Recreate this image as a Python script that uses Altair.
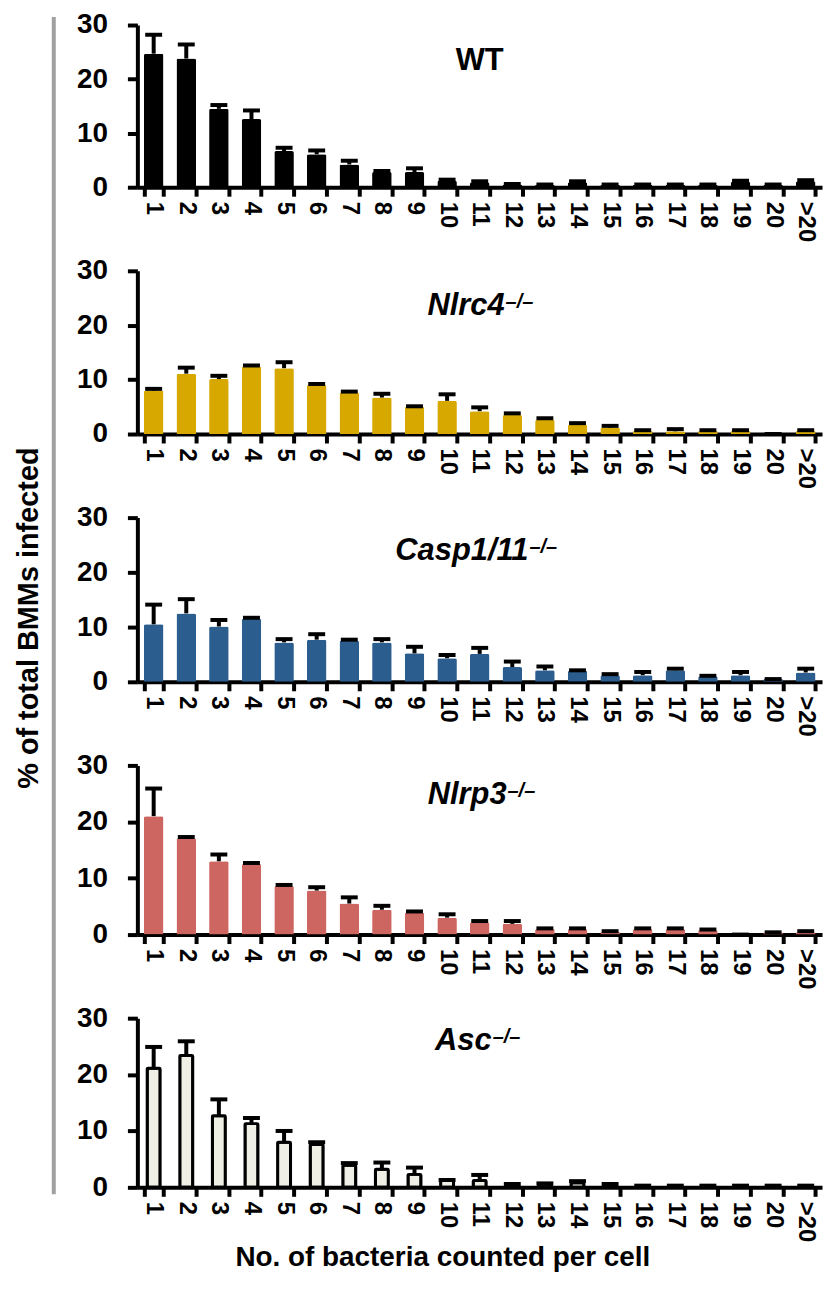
import altair as alt
import pandas as pd

FONT = "Liberation Sans"

categories = [str(i) for i in range(1, 21)] + [">20"]

wt_mean = [24.7, 23.8, 14.5, 12.6, 6.7, 6.1, 4.2, 2.8, 2.8, 1.2, 0.9, 0.5, 0.4, 0.9, 0.4, 0.4, 0.4, 0.4, 1.0, 0.4, 1.1]
wt_err = [3.5, 2.6, 0.7, 1.6, 0.6, 0.7, 0.7, 0.2, 0.7, 0.2, 0.2, 0.1, 0.1, 0.2, 0.1, 0.1, 0.1, 0.1, 0.2, 0.1, 0.2]

nlrc4_mean = [8.0, 11.1, 10.1, 12.4, 12.1, 9.0, 7.6, 6.7, 5.0, 6.1, 4.2, 3.5, 2.6, 1.7, 1.2, 0.6, 0.5, 0.6, 0.6, 0.0, 0.6]
nlrc4_err = [0.3, 1.1, 0.6, 0.2, 1.1, 0.2, 0.2, 0.7, 0.1, 1.2, 0.7, 0.3, 0.3, 0.3, 0.3, 0.1, 0.4, 0.1, 0.1, 0.0, 0.1]

casp_mean = [10.5, 12.5, 10.1, 11.5, 7.2, 7.7, 7.5, 7.2, 5.2, 4.3, 5.1, 2.7, 2.1, 2.0, 1.2, 1.2, 2.1, 1.0, 1.2, 0.5, 1.7]
casp_err = [3.6, 2.6, 1.2, 0.2, 0.6, 1.0, 0.2, 0.6, 1.2, 0.6, 1.1, 1.0, 0.7, 0.1, 0.2, 0.6, 0.3, 0.1, 0.6, 0.0, 0.7]

nlrp3_mean = [21.0, 17.1, 13.0, 12.5, 8.6, 7.8, 5.5, 4.4, 3.9, 3.0, 2.2, 1.9, 1.0, 1.0, 0.5, 1.0, 1.0, 0.8, 0.0, 0.4, 0.4]
nlrp3_err = [4.9, 0.2, 1.2, 0.2, 0.2, 0.6, 1.1, 0.7, 0.2, 0.6, 0.2, 0.5, 0.1, 0.1, 0.1, 0.1, 0.1, 0.1, 0.0, 0.0, 0.2]

asc_mean = [21.1, 23.4, 12.7, 11.3, 8.0, 7.6, 3.9, 3.2, 2.3, 1.2, 1.2, 0.5, 0.6, 0.8, 0.4, 0.2, 0.2, 0.2, 0.2, 0.2, 0.2]
asc_err = [3.8, 2.5, 2.9, 1.0, 2.0, 0.4, 0.4, 1.2, 1.2, 0.1, 1.0, 0.1, 0.1, 0.3, 0.2, 0.1, 0.1, 0.1, 0.1, 0.1, 0.1]

panel_names = ["WT", "Nlrc4", "Casp1/11", "Nlrp3", "Asc"]
panel_sups = ["", "\u2013/\u2013", "\u2013/\u2013", "\u2013/\u2013", "\u2013/\u2013"]
panel_colors = ["#000000", "#d6a800", "#2b5d8e", "#cd6661", "#efefe6"]

y_title = "% of total BMMs infected"
x_title = "No. of bacteria counted per cell"

W = 688
HEIGHTS = [163, 164, 165, 170, 170]
TITLE_X = [344, 369, 393, 371, 356]
TITLE_BASE = [45, 44, 43, 39, 32]


def make_panel(mean, err, fill, name, sup, idx, outlined=False):
    df = pd.DataFrame({
        "cat": categories,
        "mean": mean,
        "top": [m + e for m, e in zip(mean, err)],
    })
    base = alt.Chart(df)
    xenc = alt.X(
        "cat:N", sort=categories,
        scale=alt.Scale(paddingInner=0.4, paddingOuter=0.2),
        axis=alt.Axis(
            title=None, labelAngle=90, labelAlign="left", labelBaseline="middle",
            labelFont=FONT, labelFontWeight="bold", labelFontSize=24, labelColor="black",
            labelPadding=5, tickBand="extent", tickSize=9, tickWidth=4, tickColor="black",
            domainWidth=4, domainColor="black", grid=False,
        ),
    )
    yenc = alt.Y(
        "mean:Q",
        scale=alt.Scale(domain=[0, 30], nice=False),
        axis=alt.Axis(
            title=None, values=[0, 10, 20, 30], labelFont=FONT, labelFontWeight="bold",
            labelFontSize=28, labelColor="black", labelPadding=20, tickSize=10,
            tickWidth=4, tickColor="black", domainWidth=4, domainColor="black", grid=False,
        ),
    )
    if outlined:
        bars = base.mark_bar(color=fill, stroke="black", strokeWidth=3, size=13,
                             cornerRadiusTopLeft=1, cornerRadiusTopRight=1)
    else:
        bars = base.mark_bar(color=fill, cornerRadiusTopLeft=2, cornerRadiusTopRight=2)
    bars = bars.encode(x=xenc, y=yenc)
    xs = alt.X("cat:N", sort=categories)
    stem = base.mark_rule(color="black", strokeWidth=4).encode(x=xs, y="mean:Q", y2="top:Q")
    cap = base.mark_tick(color="black", size=17, thickness=4, opacity=1).encode(x=xs, y="top:Q")

    layers = [bars, stem, cap]

    title_x = TITLE_X[idx]
    title_base = TITLE_BASE[idx]
    tdf = pd.DataFrame({"t": [name]})
    if sup:
        main = alt.Chart(tdf).mark_text(
            font=FONT, fontSize=31, fontWeight="bold", fontStyle="italic",
            align="right", baseline="alphabetic", color="black",
        ).encode(x=alt.value(title_x), y=alt.value(title_base), text="t:N")
        sdf = pd.DataFrame({"t": [sup]})
        sp = alt.Chart(sdf).mark_text(
            font=FONT, fontSize=20, fontWeight="bold", fontStyle="italic",
            align="left", baseline="top", color="black",
        ).encode(x=alt.value(title_x + 1), y=alt.value(title_base - 23), text="t:N")
        layers += [main, sp]
    else:
        main = alt.Chart(tdf).mark_text(
            font=FONT, fontSize=31, fontWeight="bold",
            align="center", baseline="alphabetic", color="black",
        ).encode(x=alt.value(title_x), y=alt.value(title_base), text="t:N")
        layers += [main]

    if idx == 2:
        gdf = pd.DataFrame({"a": [0]})
        gray = alt.Chart(gdf).mark_rule(color="#a0a0a0", strokeWidth=4).encode(
            x=alt.value(-84), y=alt.value(-503), y2=alt.value(680))
        ydf = pd.DataFrame({"t": [y_title]})
        yt = alt.Chart(ydf).mark_text(
            font=FONT, fontSize=29, fontWeight="bold", angle=270,
            align="center", baseline="middle", color="black",
        ).encode(x=alt.value(-109), y=alt.value(101), text="t:N")
        layers += [gray, yt]
    if idx == 4:
        xdf = pd.DataFrame({"t": [x_title]})
        xt = alt.Chart(xdf).mark_text(
            font=FONT, fontSize=28, fontWeight="bold",
            align="center", baseline="middle", color="black",
        ).encode(x=alt.value(307), y=alt.value(241), text="t:N")
        layers += [xt]

    return alt.layer(*layers).properties(width=W, height=HEIGHTS[idx])


series = [
    (wt_mean, wt_err), (nlrc4_mean, nlrc4_err), (casp_mean, casp_err),
    (nlrp3_mean, nlrp3_err), (asc_mean, asc_err),
]

panels = []
for i, (m, e) in enumerate(series):
    panels.append(make_panel(m, e, panel_colors[i], panel_names[i], panel_sups[i], i, outlined=(i == 4)))

chart = alt.vconcat(*panels, spacing=84, bounds="flush").properties(
    padding={"left": 6, "top": 0, "right": 5, "bottom": 5}
).configure_view(stroke=None).configure_axis(grid=False)

chart.save("out.html", embed_options={"renderer": "svg", "actions": False})
